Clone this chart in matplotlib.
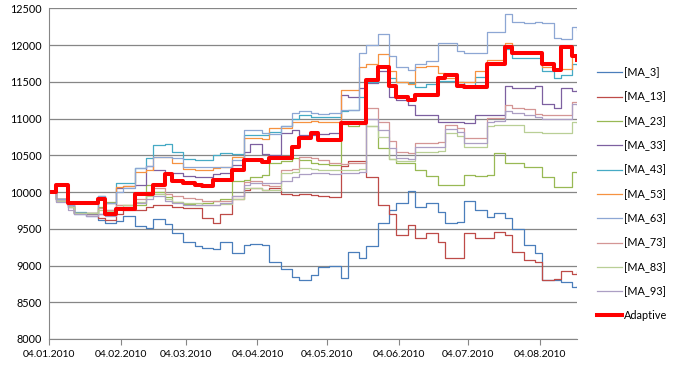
import pandas as pd
import matplotlib.pyplot as plt
import matplotlib.dates as mdates

# every 3rd trading day + last day
dates = pd.bdate_range('2010-01-04', '2010-08-20')[::3].append(pd.DatetimeIndex(['2010-08-20']))

ma_3 = [10000, 9900, 9800, 9700, 9680, 9620, 9580, 9600, 9680, 9540, 9510, 9630, 9560, 9440, 9320, 9270, 9240, 9230, 9320, 9170,
        9280, 9300, 9280, 9050, 8950, 8850, 8800, 8870, 8980, 9000, 8830, 9180, 9100, 9270, 9580, 9750, 9850, 10020, 9800, 9850,
        9730, 9580, 9590, 9880, 9760, 9660, 9720, 9650, 9500, 9280, 9170, 8800, 8800, 8770, 8710, 8720]
ma_13 = [10000, 9900, 9820, 9720, 9700, 9650, 9620, 9700, 9750, 9760, 9800, 9830, 9820, 9800, 9780, 9780, 9650, 9580, 9700, 9900,
         10030, 10050, 10030, 10050, 9980, 9960, 9980, 9960, 9950, 9930, 10350, 10420, 10420, 10200, 9820, 9700, 9420, 9550, 9380, 9440,
         9320, 9100, 9100, 9440, 9380, 9380, 9460, 9420, 9180, 9080, 9050, 8800, 8820, 8920, 8880, 8910]
ma_23 = [10000, 9900, 9820, 9720, 9720, 9800, 9860, 9830, 9820, 9830, 10100, 10000, 9930, 9860, 9840, 9830, 9850, 9880, 9900, 10150,
         10160, 10210, 10230, 10400, 10420, 10460, 10440, 10400, 10380, 10370, 10930, 10900, 10930, 10900, 10600, 10450, 10400, 10400, 10300, 10220,
         10100, 10100, 10100, 10230, 10220, 10230, 10530, 10400, 10400, 10340, 10340, 10200, 10070, 10070, 10280, 10260]
ma_33 = [10000, 9900, 9820, 9720, 9700, 9700, 9750, 10050, 10080, 10100, 10350, 10300, 10250, 10260, 10220, 10200, 10210, 10250, 10260, 10370,
         10550, 10650, 10520, 10500, 10800, 10840, 10780, 10780, 10790, 10800, 11320, 11300, 11420, 11480, 11650, 11300, 11250, 11180, 11050, 11050,
         10960, 10950, 10950, 10940, 11050, 11050, 11050, 11450, 11420, 11420, 11440, 11200, 11150, 11420, 11380, 11390]
ma_43 = [10000, 9900, 9830, 9730, 9720, 9950, 9850, 10120, 10130, 10330, 10460, 10640, 10650, 10550, 10450, 10440, 10440, 10500, 10530, 10520,
         10780, 10780, 10780, 10820, 10900, 11000, 11050, 11020, 11020, 11020, 11100, 11120, 11300, 11500, 11700, 11550, 11500, 11480, 11430, 11470,
         11510, 11510, 11500, 11430, 11560, 11750, 11750, 11950, 11820, 11820, 11820, 11650, 11550, 11600, 11740, 11730]
ma_53 = [10000, 9900, 9830, 9720, 9720, 9900, 9850, 10070, 10080, 10280, 10300, 10480, 10480, 10390, 10320, 10300, 10300, 10330, 10340, 10480,
         10730, 10740, 10720, 10870, 10870, 10950, 10960, 10970, 10960, 10950, 11390, 11390, 11700, 11740, 11880, 11650, 11500, 11470, 11700, 11720,
         11620, 11550, 11500, 11500, 11650, 11800, 11800, 12030, 11900, 11900, 11900, 11700, 11680, 11680, 11850, 11830]
ma_63 = [10000, 9900, 9830, 9720, 9720, 9950, 9850, 10000, 10050, 10330, 10350, 10480, 10480, 10460, 10340, 10340, 10340, 10340, 10340, 10440,
         10850, 10840, 10800, 10790, 10900, 11080, 11100, 11080, 11060, 11080, 11120, 11120, 11900, 12000, 12150, 11850, 11700, 11660, 11750, 11780,
         12030, 12030, 11920, 11900, 11900, 12180, 12180, 12430, 12310, 12300, 12310, 12300, 12100, 12080, 12250, 12200]
ma_73 = [10000, 9880, 9800, 9720, 9720, 9780, 9750, 9820, 9830, 9900, 10000, 10050, 9980, 9950, 9920, 9900, 9880, 9880, 9880, 9950,
         10140, 10150, 10100, 10080, 10300, 10320, 10480, 10460, 10430, 10400, 10380, 10390, 10400, 11150, 10950, 10700, 10540, 10530, 10670, 10670,
         10680, 10920, 10870, 10740, 10740, 11010, 11010, 11180, 11150, 11130, 11060, 11050, 11050, 11050, 11230, 11220]
ma_83 = [10000, 9880, 9800, 9720, 9720, 9760, 9740, 9800, 9820, 9870, 9950, 9980, 9900, 9870, 9850, 9850, 9830, 9830, 9840, 9900,
         10050, 10060, 10030, 10030, 10260, 10270, 10330, 10320, 10300, 10300, 10300, 10300, 10310, 10900, 10750, 10450, 10420, 10420, 10540, 10540,
         10560, 10800, 10760, 10610, 10610, 10900, 10910, 10910, 10910, 10820, 10820, 10800, 10800, 10800, 10950, 10940]
ma_93 = [10000, 9870, 9760, 9700, 9680, 9700, 9680, 9780, 9800, 9850, 9900, 9950, 9880, 9850, 9830, 9830, 9830, 9820, 9850, 9950,
         10100, 10120, 10120, 10120, 10150, 10200, 10250, 10260, 10260, 10250, 10260, 10260, 10270, 11000, 10850, 10600, 10460, 10450, 10610, 10610,
         10610, 10860, 10820, 10670, 10670, 10960, 10970, 11100, 11080, 11050, 11020, 11000, 11000, 11000, 11200, 11190]
adaptive = [10000, 10100, 9850, 9850, 9850, 9900, 9700, 9770, 9770, 9980, 9980, 10100, 10250, 10150, 10120, 10100, 10080, 10160, 10160, 10300,
            10440, 10440, 10410, 10460, 10460, 10610, 10730, 10800, 10710, 10710, 10940, 10940, 10940, 11520, 11700, 11450, 11300, 11250, 11320, 11320,
            11550, 11600, 11450, 11430, 11430, 11750, 11750, 11980, 11890, 11890, 11890, 11750, 11660, 11980, 11850, 11800]

series = [('[MA_3]', ma_3, '#4A7EBB'), ('[MA_13]', ma_13, '#BE4B48'), ('[MA_23]', ma_23, '#98B954'),
          ('[MA_33]', ma_33, '#7D60A0'), ('[MA_43]', ma_43, '#46AAC5'), ('[MA_53]', ma_53, '#F69240'),
          ('[MA_63]', ma_63, '#8DA7D4'), ('[MA_73]', ma_73, '#D49695'), ('[MA_83]', ma_83, '#B9CF96'),
          ('[MA_93]', ma_93, '#AC9FC4')]

plt.rcParams['font.family'] = ['Lato', 'DejaVu Sans']

fig = plt.figure(figsize=(6.78, 3.67), dpi=100)
ax = fig.add_axes([0.0723, 0.0763, 0.7787, 0.9007])

for name, vals, col in series:
    ax.plot(dates, vals, color=col, lw=0.9, drawstyle='steps-post', label=name)
ax.plot(dates, adaptive, color='#FF0000', lw=2.9, drawstyle='steps-post', label='Adaptive')

ax.set_ylim(8000, 12500)
ax.set_yticks(range(8000, 12501, 500))
ax.set_xlim(dates[0], dates[-1])
ticks = [pd.Timestamp(2010, m, 4) for m in range(1, 9)]
ax.set_xticks(ticks)
ax.xaxis.set_major_formatter(mdates.DateFormatter('%d.%m.%Y'))

ax.grid(axis='y', color='#868686', lw=0.9)
ax.set_axisbelow(True)
for s in ['top', 'right']:
    ax.spines[s].set_visible(False)
for s in ['left', 'bottom']:
    ax.spines[s].set_color('#868686')
ax.tick_params(axis='y', length=0, labelsize=7.8, pad=5)
ax.tick_params(axis='x', length=4, color='#868686', labelsize=7.5, pad=4)

fig.legend(loc='center left', bbox_to_anchor=(0.866, 0.471), frameon=False, fontsize=7.8,
           labelspacing=1.23, handlelength=2.3, handletextpad=0.2)

plt.savefig('out.png', dpi=100)
